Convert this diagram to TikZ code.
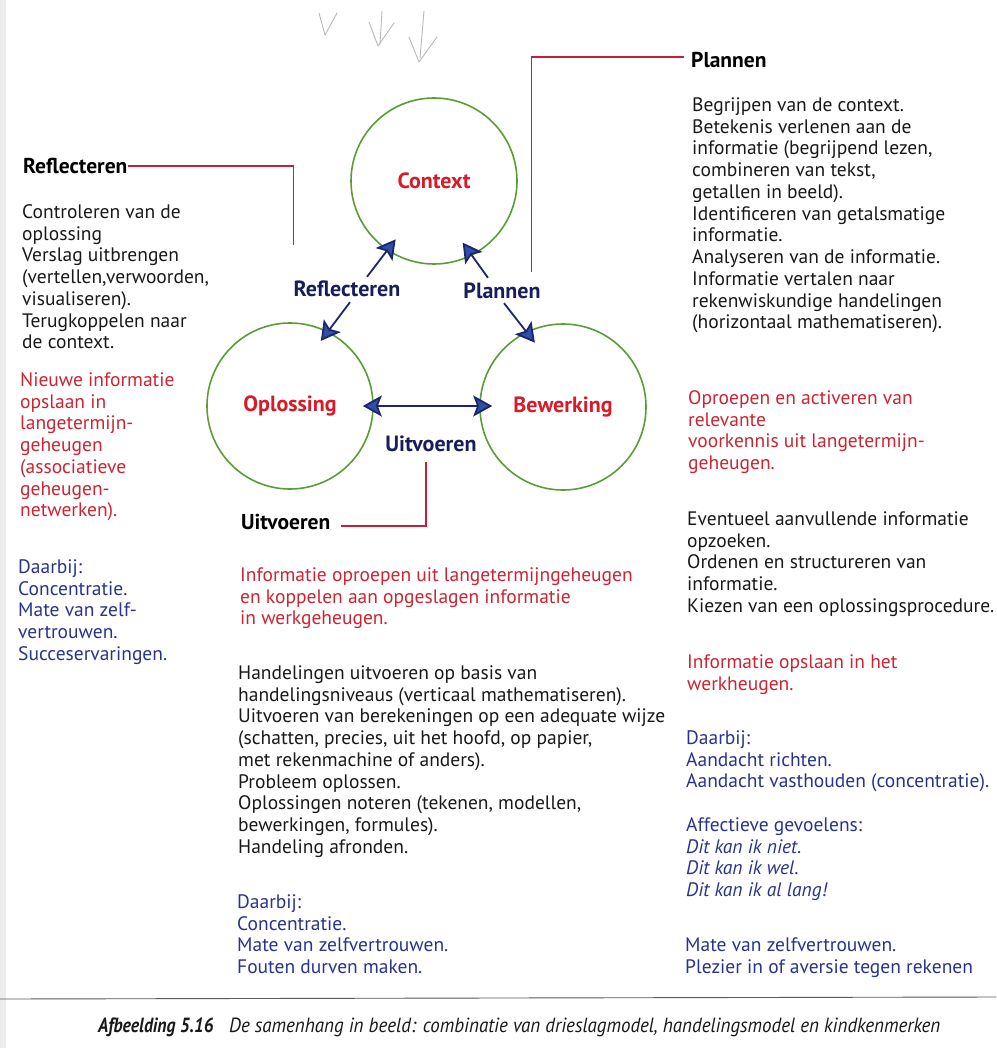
\documentclass[tikz,border=0pt]{standalone}
\usepackage{fontspec}
\setmainfont{PT Sans}
\newfontfamily\capfontA[FakeStretch=0.862]{PT Sans}
\newfontfamily\capfontB[FakeStretch=0.927]{PT Sans}
\usetikzlibrary{arrows.meta,calc}
\definecolor{cgreen}{RGB}{88,158,52}
\definecolor{cred}{RGB}{214,28,40}
\definecolor{cbodyred}{RGB}{204,36,50}
\definecolor{cblue}{RGB}{40,52,140}
\definecolor{cnavy}{RGB}{24,30,92}
\definecolor{cnavyline}{RGB}{28,38,108}
\definecolor{chead}{RGB}{48,78,165}
\definecolor{cline}{RGB}{200,28,58}
\definecolor{ctext}{RGB}{25,25,25}
\begin{document}
\begin{tikzpicture}[x=1pt,y=-1pt,
  circ/.style={circle, draw=cgreen, line width=1.6pt, minimum size=166pt, inner sep=0pt, text=cred, font=\bfseries\fontsize{22}{24}\selectfont},
  lbl/.style={inner sep=0pt, text=cnavy, font=\bfseries\fontsize{22}{24}\selectfont},
  headtext/.style={inner sep=0pt, anchor=west, text=black, font=\bfseries\fontsize{21.5}{24}\selectfont},
  bodytext/.style={inner sep=0pt, anchor=north west, align=left, text=ctext, font=\fontsize{19.5}{21.75}\selectfont},
  redbody/.style={bodytext, text=cbodyred},
  bluebody/.style={bodytext, text=cblue},
  tip/.tip={Stealth[length=19pt,width=21pt,inset=4pt,fill=chead]},
  arr/.style={draw=cnavyline, line width=1.8pt, -tip},
  darr/.style={draw=cnavyline, line width=1.8pt, tip-tip},
  redconn/.style={draw=cline, line width=1.1pt},
  pencil/.style={draw=gray!55, line width=0.9pt, line cap=round, line join=round},
  capbold/.style={inner sep=0pt, anchor=west, text=ctext, font=\capfontA\bfseries\itshape\fontsize{20.5}{22}\selectfont},
  captext/.style={inner sep=0pt, anchor=west, text=ctext, font=\capfontB\itshape\fontsize{20.5}{22}\selectfont}
]
\useasboundingbox[fill=white] (0,0) rectangle (996,1048);
\fill[gray!14] (0,0) rectangle (6,1048);

% pencil marks
\draw[pencil] (319,13) -- (325,35) -- (337,13);
\draw[pencil] (369,22) -- (378,46) -- (394,23);
\draw[pencil] (382,11) -- (380,44);
\draw[pencil] (409,37) -- (419,62) -- (437,37);
\draw[pencil] (424,11) -- (420,58);

% circles
\node[circ] (ctx) at (434,181) {Context};
\node[circ] (opl) at (290,406) {Oplossing};
\node[circ] (bew) at (563,407) {Bewerking};

% labels
\node[lbl] (reflLbl) at (347,289) {Reflecteren};
\node[lbl] (planLbl) at (502,291) {Plannen};
\node[lbl] (uitLbl) at (431,444) {Uitvoeren};

% arrows
\draw[arr, shorten >=-14pt] ($(reflLbl.north)+(20,-4)$) -- (ctx.236);
\draw[arr, shorten >=-12pt] ($(reflLbl.south)+(3,5)$) -- (opl.63);
\draw[arr, shorten >=-16pt] ($(planLbl.north)+(-14,-5)$) -- (ctx.297);
\draw[arr, shorten >=-14pt] ($(planLbl.south)+(2,4)$) -- (bew.116);
\draw[darr, shorten <=-11pt, shorten >=-13pt] (opl.east) -- (opl.east -| bew.west);

% headers
\node[headtext] (reflHead) at (23,166) {Reflecteren};
\node[headtext] (uitHead) at (241,522) {Uitvoeren};
\node[headtext] (planHead) at (691,60) {Plannen};

% red connectors
\draw[redconn] ($(planLbl.north east)+(-9,-11)$) |- ($(planHead.west)+(-7,-3)$);
\draw[redconn] (reflHead.east) -| ($(reflLbl.north west)+(0,-36)$);
\draw[redconn] ($(uitHead.east)+(11,4)$) -| ($(uitLbl.south)+(-5,10)$);

% left column
\node[bodytext] (l1) at (22,203) {\strut Controleren van de\\oplossing\\Verslag uitbrengen\\(vertellen,verwoorden,\\visualiseren).\\Terugkoppelen naar\\de context.};
\node[redbody] (l2) at (20,371) {\strut Nieuwe informatie\\opslaan in\\langetermijn-\\geheugen\\(associatieve\\geheugen-\\netwerken).};
\node[bluebody] (l3) at (18,558) {\strut Daarbij:\\Concentratie.\\Mate van zelf-\\vertrouwen.\\Succeservaringen.};

% middle column
\node[redbody] (m1) at (240,566) {\strut Informatie oproepen uit langetermijngeheugen\\en koppelen aan opgeslagen informatie\\in werkgeheugen.};
\node[bodytext] (m2) at (238,664) {\strut Handelingen uitvoeren op basis van\\handelingsniveaus (verticaal mathematiseren).\\Uitvoeren van berekeningen op een adequate wijze\\(schatten, precies, uit het hoofd, op papier,\\met rekenmachine of anders).\\Probleem oplossen.\\Oplossingen noteren (tekenen, modellen,\\bewerkingen, formules).\\Handeling afronden.};
\node[bluebody] (m3) at (237,893) {\strut Daarbij:\\Concentratie.\\Mate van zelfvertrouwen.\\Fouten durven maken.};

% right column
\node[bodytext] (r1) at (692,96) {\strut Begrijpen van de context.\\Betekenis verlenen aan de\\informatie (begrijpend lezen,\\combineren van tekst,\\getallen in beeld).\\Identificeren van getalsmatige\\informatie.\\Analyseren van de informatie.\\Informatie vertalen naar\\rekenwiskundige handelingen\\(horizontaal mathematiseren).};
\node[redbody] (r2) at (688,389) {\strut Oproepen en activeren van\\relevante\\voorkennis uit langetermijn-\\geheugen.};
\node[bodytext] (r3) at (687,510) {\strut Eventueel aanvullende informatie\\opzoeken.\\Ordenen en structureren van\\informatie.\\Kiezen van een oplossingsprocedure.};
\node[redbody] (r4) at (687,653) {\strut Informatie opslaan in het\\werkheugen.};
\node[bluebody] (r5) at (686,729) {\strut Daarbij:\\Aandacht richten.\\Aandacht vasthouden (concentratie).};
\node[bluebody] (r6) at (686,816) {\strut Affectieve gevoelens:\\\textit{Dit kan ik niet.}\\\textit{Dit kan ik wel.}\\\textit{Dit kan ik al lang!}};
\node[bluebody] (r7) at (685,936) {\strut Mate van zelfvertrouwen.\\Plezier in of aversie tegen rekenen};

% caption
\draw[draw=gray!70!black, line width=0.9pt] (0,999) -- (996,997);
\node[capbold] (capA) at (98,1027) {Afbeelding 5.16};
\node[captext] (capB) at (229,1027) {De samenhang in beeld: combinatie van drieslagmodel, handelingsmodel en kindkenmerken};
\end{tikzpicture}
\end{document}
